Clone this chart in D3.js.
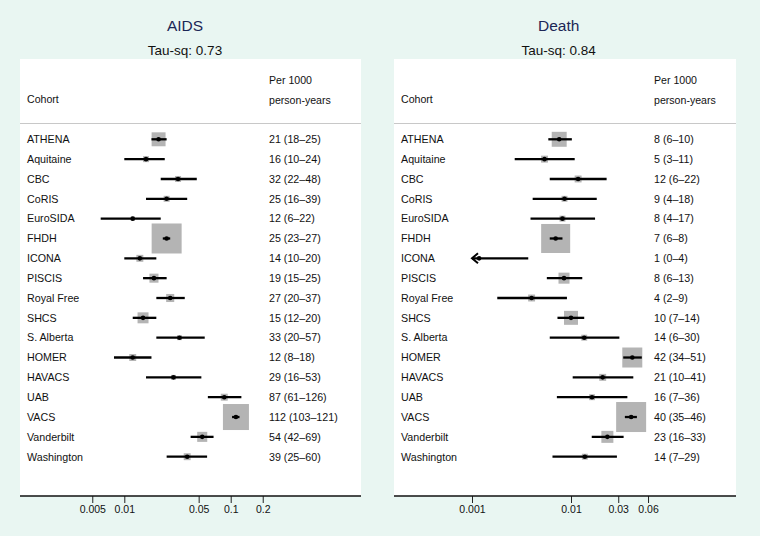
<!DOCTYPE html>
<html><head><meta charset="utf-8">
<script src="https://cdn.jsdelivr.net/npm/d3@7"></script>
<style>
body{margin:0;background:#e9f6f2;}
svg{display:block;font-family:"Liberation Sans",Arial,Helvetica,sans-serif;}
</style>
</head><body>
<svg id="c" width="760" height="536"></svg>
<script>
// ---------------- data ----------------
const cohorts = ["ATHENA","Aquitaine","CBC","CoRIS","EuroSIDA","FHDH","ICONA","PISCIS","Royal Free","SHCS","S. Alberta","HOMER","HAVACS","UAB","VACS","Vanderbilt","Washington"];

// AIDS, per 1000 person-years
const aidsEst    = [21,16,32,25,12,25,14,19,27,15,33,12,29,87,112,54,39];
const aidsLo     = [18,10,22,16,6,23,10,15,20,12,20,8,16,61,103,42,25];
const aidsHi     = [25,24,48,39,22,27,20,25,37,20,57,18,53,126,121,69,60];
const aidsWeight = [8.1,1.5,1.5,1.5,0.7,37.4,2.0,3.4,2.7,5.0,1.0,2.0,1.0,2.0,28.1,4.2,2.0];
const aidsLabels = ["21 (18–25)","16 (10–24)","32 (22–48)","25 (16–39)","12 (6–22)","25 (23–27)","14 (10–20)","19 (15–25)","27 (20–37)","15 (12–20)","33 (20–57)","12 (8–18)","29 (16–53)","87 (61–126)","112 (103–121)","54 (42–69)","39 (25–60)"];
const aidsTicks  = [0.005,0.01,0.05,0.1,0.2];

// Death, per 1000 person-years
const deathEst    = [7.6,5.4,11.8,8.6,8.2,7.0,1.18,8.5,4.0,10,13.6,41.6,20.9,16.3,40.5,23.3,13.8];
const deathLo     = [5.9,2.7,6.1,4.1,3.9,6.1,0,5.7,1.8,7.3,6.1,33.7,10.4,7.2,35,16.2,6.5];
const deathHi     = [10.2,10.9,22.9,18.2,17.5,8.2,3.7,13.0,9.1,13.6,30.8,51.9,42.6,37.1,46.3,34,29.1];
const deathWeight = [7.0,1.5,1.5,1.1,1.1,26.3,0,3.8,1.5,6.1,1.1,12.5,1.5,1.1,28.1,4.5,1.1];
const deathLabels = ["8 (6–10)","5 (3–11)","12 (6–22)","9 (4–18)","8 (4–17)","7 (6–8)","1 (0–4)","8 (6–13)","4 (2–9)","10 (7–14)","14 (6–30)","42 (34–51)","21 (10–41)","16 (7–36)","40 (35–46)","23 (16–33)","14 (7–29)"];
const deathTicks  = [0.001,0.01,0.03,0.06];

// ---------------- drawing ----------------
const svg = d3.select("#c");
const yRow = d3.scalePoint().domain(cohorts).range([139.3, 456.7]);
const panelTop = 59, axisY = 496;

function panel(cfg){
  const g = svg.append("g");
  const x = d3.scaleLog().domain(cfg.domain).range(cfg.range);
  const box = d3.scaleSqrt().domain([0, d3.max(cfg.weight)]).range([0, 30]);
  const rows = cohorts.map((c,i)=>({c, est:cfg.est[i]/1000, lo:cfg.lo[i]/1000, hi:cfg.hi[i]/1000, w:cfg.weight[i], lab:cfg.labels[i]}));

  g.append("rect").attr("x",cfg.x0).attr("y",panelTop).attr("width",cfg.x1-cfg.x0).attr("height",axisY-panelTop).attr("fill","#fff");

  g.append("text").attr("x",cfg.titleX).attr("y",31).attr("text-anchor","middle")
    .attr("font-size",15.5).attr("fill","#1c2656").text(cfg.title);
  g.append("text").attr("x",cfg.titleX).attr("y",54.5).attr("text-anchor","middle")
    .attr("font-size",13.5).attr("fill","#111").text(cfg.tau);

  g.append("text").attr("x",cfg.labelX).attr("y",103).attr("font-size",10.6).attr("fill","#111").text("Cohort");
  g.append("text").attr("x",cfg.valueX).attr("y",84).attr("font-size",10.6).attr("fill","#111").text("Per 1000");
  g.append("text").attr("x",cfg.valueX).attr("y",104).attr("font-size",10.6).attr("fill","#111").text("person-years");
  g.append("line").attr("x1",cfg.x0).attr("x2",cfg.x1).attr("y1",123.5).attr("y2",123.5)
    .attr("stroke","#c8c8c8").attr("stroke-width",1);

  const r = g.selectAll("g.row").data(rows).join("g").attr("class","row");
  r.append("text").attr("x",cfg.labelX).attr("y",d=>yRow(d.c)+3.8).attr("font-size",10.7).attr("fill","#111").text(d=>d.c);
  r.append("text").attr("x",cfg.valueX).attr("y",d=>yRow(d.c)+3.8).attr("font-size",10.7).attr("fill","#111").text(d=>d.lab);
  r.filter(d=>d.w>0).append("rect")
    .attr("x",d=>x(d.est)-box(d.w)/2).attr("y",d=>yRow(d.c)-box(d.w)/2)
    .attr("width",d=>box(d.w)).attr("height",d=>box(d.w)).attr("fill","#b4b4b4");
  r.append("line")
    .attr("x1",d=>d.lo>0 ? x(d.lo) : x(cfg.clip)).attr("x2",d=>x(d.hi))
    .attr("y1",d=>yRow(d.c)).attr("y2",d=>yRow(d.c))
    .attr("stroke","#000").attr("stroke-width",2.3);
  r.filter(d=>!(d.lo>0)).append("path")
    .attr("d",d=>{const t=x(cfg.clip), y=yRow(d.c); return `M${t+6},${y-5}L${t},${y}L${t+6},${y+5}`;})
    .attr("fill","none").attr("stroke","#000").attr("stroke-width",2);
  r.append("circle").attr("cx",d=>x(d.est)).attr("cy",d=>yRow(d.c)).attr("r",2.3).attr("fill","#000");

  const ax = g.append("g").attr("transform",`translate(0,${axisY})`)
    .call(d3.axisBottom(x).tickValues(cfg.ticks).tickFormat(d=>String(d)).tickSize(7).tickSizeOuter(0));
  ax.select(".domain").remove();
  ax.selectAll(".tick line").attr("stroke","#222");
  ax.selectAll(".tick text").attr("font-size",10.5).attr("fill","#111").attr("font-family","Liberation Sans, Arial, sans-serif");
  g.append("line").attr("x1",cfg.x0).attr("x2",cfg.x1).attr("y1",axisY).attr("y2",axisY)
    .attr("stroke","#111").attr("stroke-width",1.3);
}

panel({x0:20, x1:361, titleX:185, labelX:27, valueX:269, title:"AIDS", tau:"Tau-sq: 0.73",
  domain:[0.01,0.1], range:[124.3,230.7], clip:0.005,
  est:aidsEst, lo:aidsLo, hi:aidsHi, weight:aidsWeight, labels:aidsLabels, ticks:aidsTicks});
panel({x0:394, x1:736, titleX:558.7, labelX:401, valueX:654, title:"Death", tau:"Tau-sq: 0.84",
  domain:[0.001,0.01], range:[472,571], clip:0.001,
  est:deathEst, lo:deathLo, hi:deathHi, weight:deathWeight, labels:deathLabels, ticks:deathTicks});
</script>
</body></html>
